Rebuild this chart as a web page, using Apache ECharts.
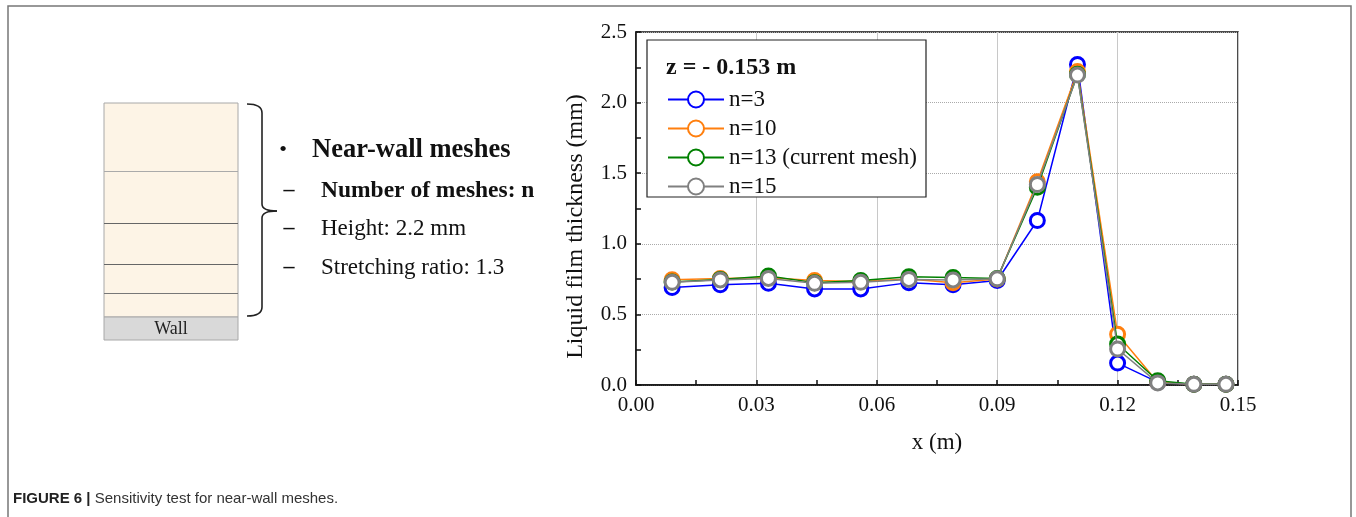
<!DOCTYPE html>
<html>
<head>
<meta charset="utf-8">
<script src="https://cdn.jsdelivr.net/npm/echarts@6/dist/echarts.min.js"></script>
<style>
html,body{margin:0;padding:0;background:#fff;}
#chart{width:1356px;height:517px;}
</style>
</head>
<body>
<div id="chart"></div>
<script>
// ---- data ----
const xPositions = [0.009, 0.021, 0.033, 0.0445, 0.056, 0.068, 0.079, 0.09, 0.10, 0.11, 0.12, 0.13, 0.139, 0.147];
const seriesNames = ['n=3', 'n=10', 'n=13 (current mesh)', 'n=15'];
const n3  = [0.69, 0.71, 0.72, 0.68, 0.68, 0.725, 0.71, 0.74, 1.165, 2.27, 0.155, 0.02, 0.005, 0.005];
const n10 = [0.745, 0.755, 0.76, 0.74, 0.733, 0.75, 0.725, 0.75, 1.44, 2.22, 0.36, 0.02, 0.005, 0.005];
const n13 = [0.73, 0.748, 0.772, 0.725, 0.74, 0.767, 0.762, 0.755, 1.40, 2.20, 0.29, 0.03, 0.005, 0.005];
const n15 = [0.727, 0.744, 0.755, 0.72, 0.727, 0.748, 0.744, 0.752, 1.42, 2.195, 0.255, 0.015, 0.005, 0.005];
const xTicks = [0.00, 0.03, 0.06, 0.09, 0.12, 0.15];
const yTicks = [0.0, 0.5, 1.0, 1.5, 2.0, 2.5];
const legendTitle = 'z = - 0.153 m';
const xName = 'x (m)';
const yName = 'Liquid film thickness (mm)';
const meshLines = ['Near-wall meshes', 'Number of meshes: n', 'Height: 2.2 mm', 'Stretching ratio: 1.3'];
const caption = ['FIGURE 6 |', ' Sensitivity test for near-wall meshes.'];

const colors = ['#0000ff', '#ff7f0e', '#008000', '#808080'];
const allValues = [n3, n10, n13, n15];
const SERIF = "'Liberation Serif','Times New Roman',serif";

const chart = echarts.init(document.getElementById('chart'), null, {renderer: 'canvas'});

const series = allValues.map((vals, i) => ({
  name: seriesNames[i],
  type: 'line',
  data: xPositions.map((x, j) => [x, vals[j]]),
  symbol: 'circle',
  symbolSize: 14,
  showAllSymbol: true,
  lineStyle: {color: colors[i], width: 1.5},
  itemStyle: {color: '#fff', borderColor: colors[i], borderWidth: 3},
  emphasis: {disabled: true},
  z: 2 + i
}));

const dx0 = 104, dx1 = 238;
const bstyle = {stroke: '#222', lineWidth: 1.6, fill: null};
const graphics = [
  {type: 'polyline', shape: {points: [[8, 517], [8, 6], [1351, 6], [1351, 517]]},
   style: {stroke: '#777', lineWidth: 1.5, fill: null}, silent: true},
  {type: 'rect', shape: {x: dx0, y: 103, width: dx1 - dx0, height: 214},
   style: {fill: '#fdf4e6', stroke: '#a8a8a8', lineWidth: 1}},
  {type: 'line', shape: {x1: dx0, y1: 171.5, x2: dx1, y2: 171.5}, style: {stroke: '#aaa', lineWidth: 1}},
  {type: 'line', shape: {x1: dx0, y1: 223.5, x2: dx1, y2: 223.5}, style: {stroke: '#666', lineWidth: 1.2}},
  {type: 'line', shape: {x1: dx0, y1: 264.5, x2: dx1, y2: 264.5}, style: {stroke: '#666', lineWidth: 1.2}},
  {type: 'line', shape: {x1: dx0, y1: 293.5, x2: dx1, y2: 293.5}, style: {stroke: '#777', lineWidth: 1}},
  {type: 'rect', shape: {x: dx0, y: 317, width: dx1 - dx0, height: 23},
   style: {fill: '#d9d9d9', stroke: '#a8a8a8', lineWidth: 1}},
  {type: 'text', x: (dx0 + dx1) / 2, y: 329,
   style: {text: 'Wall', font: "18px " + SERIF, fill: '#222', align: 'center', verticalAlign: 'middle'}},
  // bracket
  {type: 'bezierCurve', shape: {x1: 247, y1: 104, cpx1: 262, cpy1: 104, x2: 262, y2: 113}, style: bstyle},
  {type: 'line', shape: {x1: 262, y1: 113, x2: 262, y2: 204}, style: bstyle},
  {type: 'bezierCurve', shape: {x1: 262, y1: 204, cpx1: 262, cpy1: 211, x2: 277, y2: 211}, style: bstyle},
  {type: 'bezierCurve', shape: {x1: 277, y1: 211, cpx1: 262, cpy1: 211, x2: 262, y2: 218}, style: bstyle},
  {type: 'line', shape: {x1: 262, y1: 218, x2: 262, y2: 307}, style: bstyle},
  {type: 'bezierCurve', shape: {x1: 262, y1: 307, cpx1: 262, cpy1: 316, x2: 247, y2: 316}, style: bstyle},
  // texts
  {type: 'text', x: 283, y: 150, style: {text: '•', font: "22px " + SERIF, fill: '#111', align: 'center', verticalAlign: 'middle'}},
  {type: 'text', x: 312, y: 150, style: {text: meshLines[0], font: "bold 26.5px " + SERIF, fill: '#111', verticalAlign: 'middle'}},
  {type: 'text', x: 289, y: 190, style: {text: '–', font: "bold 22px " + SERIF, fill: '#111', align: 'center', verticalAlign: 'middle'}},
  {type: 'text', x: 321, y: 191, style: {text: meshLines[1], font: "bold 23.5px " + SERIF, fill: '#111', verticalAlign: 'middle'}},
  {type: 'text', x: 289, y: 228, style: {text: '–', font: "bold 22px " + SERIF, fill: '#111', align: 'center', verticalAlign: 'middle'}},
  {type: 'text', x: 321, y: 229, style: {text: meshLines[2], font: "23px " + SERIF, fill: '#111', verticalAlign: 'middle'}},
  {type: 'text', x: 289, y: 267, style: {text: '–', font: "bold 22px " + SERIF, fill: '#111', align: 'center', verticalAlign: 'middle'}},
  {type: 'text', x: 321, y: 268, style: {text: meshLines[3], font: "23px " + SERIF, fill: '#111', verticalAlign: 'middle'}},
  // legend box & title
  {type: 'rect', shape: {x: 647, y: 40, width: 279, height: 157},
   style: {fill: '#fff', stroke: '#222', lineWidth: 1.2}, z: 10},
  {type: 'text', x: 666, y: 68, z: 11,
   style: {text: legendTitle, font: "bold 24px " + SERIF, fill: '#111', verticalAlign: 'middle'}},
  // caption
  {type: 'text', x: 13, y: 499,
   style: {
     text: '{b|' + caption[0] + '}{r|' + caption[1] + '}',
     verticalAlign: 'middle',
     rich: {
       b: {fontFamily: "'Liberation Sans',Arial,sans-serif", fontWeight: 'bold', fontSize: 15, fill: '#222'},
       r: {fontFamily: "'Liberation Sans',Arial,sans-serif", fontSize: 15, fill: '#333'}
     }
   }}
];

const option = {
  backgroundColor: '#fff',
  animation: false,
  color: colors,
  grid: {left: 636, right: 118, top: 32, bottom: 132, show: true, borderColor: '#111', borderWidth: 1.5, backgroundColor: 'transparent'},
  legend: {
    data: seriesNames,
    orient: 'vertical',
    left: 662, top: 83,
    itemWidth: 56, itemHeight: 20, itemGap: 6,
    z: 12,
    textStyle: {fontFamily: SERIF, fontSize: 23, color: '#111'},
    selectedMode: false
  },
  xAxis: {
    type: 'value', min: xTicks[0], max: xTicks[xTicks.length - 1], interval: 0.03,
    name: xName, nameLocation: 'middle', nameGap: 46,
    nameTextStyle: {fontFamily: SERIF, fontSize: 23, color: '#111'},
    axisLine: {lineStyle: {color: '#111', width: 1.5}},
    axisTick: {inside: true, length: 5, lineStyle: {color: '#111', width: 1.5}},
    minorTick: {show: true, splitNumber: 2, length: 5, lineStyle: {color: '#111', width: 1.5}},
    axisLabel: {fontFamily: SERIF, fontSize: 21, color: '#111', margin: 10, formatter: v => v.toFixed(2)},
    splitLine: {show: true, lineStyle: {color: '#c8c8c8', width: 1, type: 'solid'}}
  },
  yAxis: {
    type: 'value', min: yTicks[0], max: yTicks[yTicks.length - 1], interval: 0.5,
    name: yName, nameLocation: 'middle', nameGap: 48, nameRotate: 90,
    nameTextStyle: {fontFamily: SERIF, fontSize: 24, color: '#111', padding: [0, 36, 0, 0]},
    axisLine: {show: true, lineStyle: {color: '#111', width: 1.5}},
    axisTick: {show: true, inside: true, length: 5, lineStyle: {color: '#111', width: 1.5}},
    minorTick: {show: true, splitNumber: 2, length: 5, lineStyle: {color: '#111', width: 1.5}},
    axisLabel: {fontFamily: SERIF, fontSize: 21, color: '#111', margin: 9, formatter: v => v.toFixed(1)},
    splitLine: {show: true, lineStyle: {color: '#aaa', width: 1, type: 'dotted'}}
  },
  series: series,
  graphic: graphics
};
chart.setOption(option);
</script>
</body>
</html>
